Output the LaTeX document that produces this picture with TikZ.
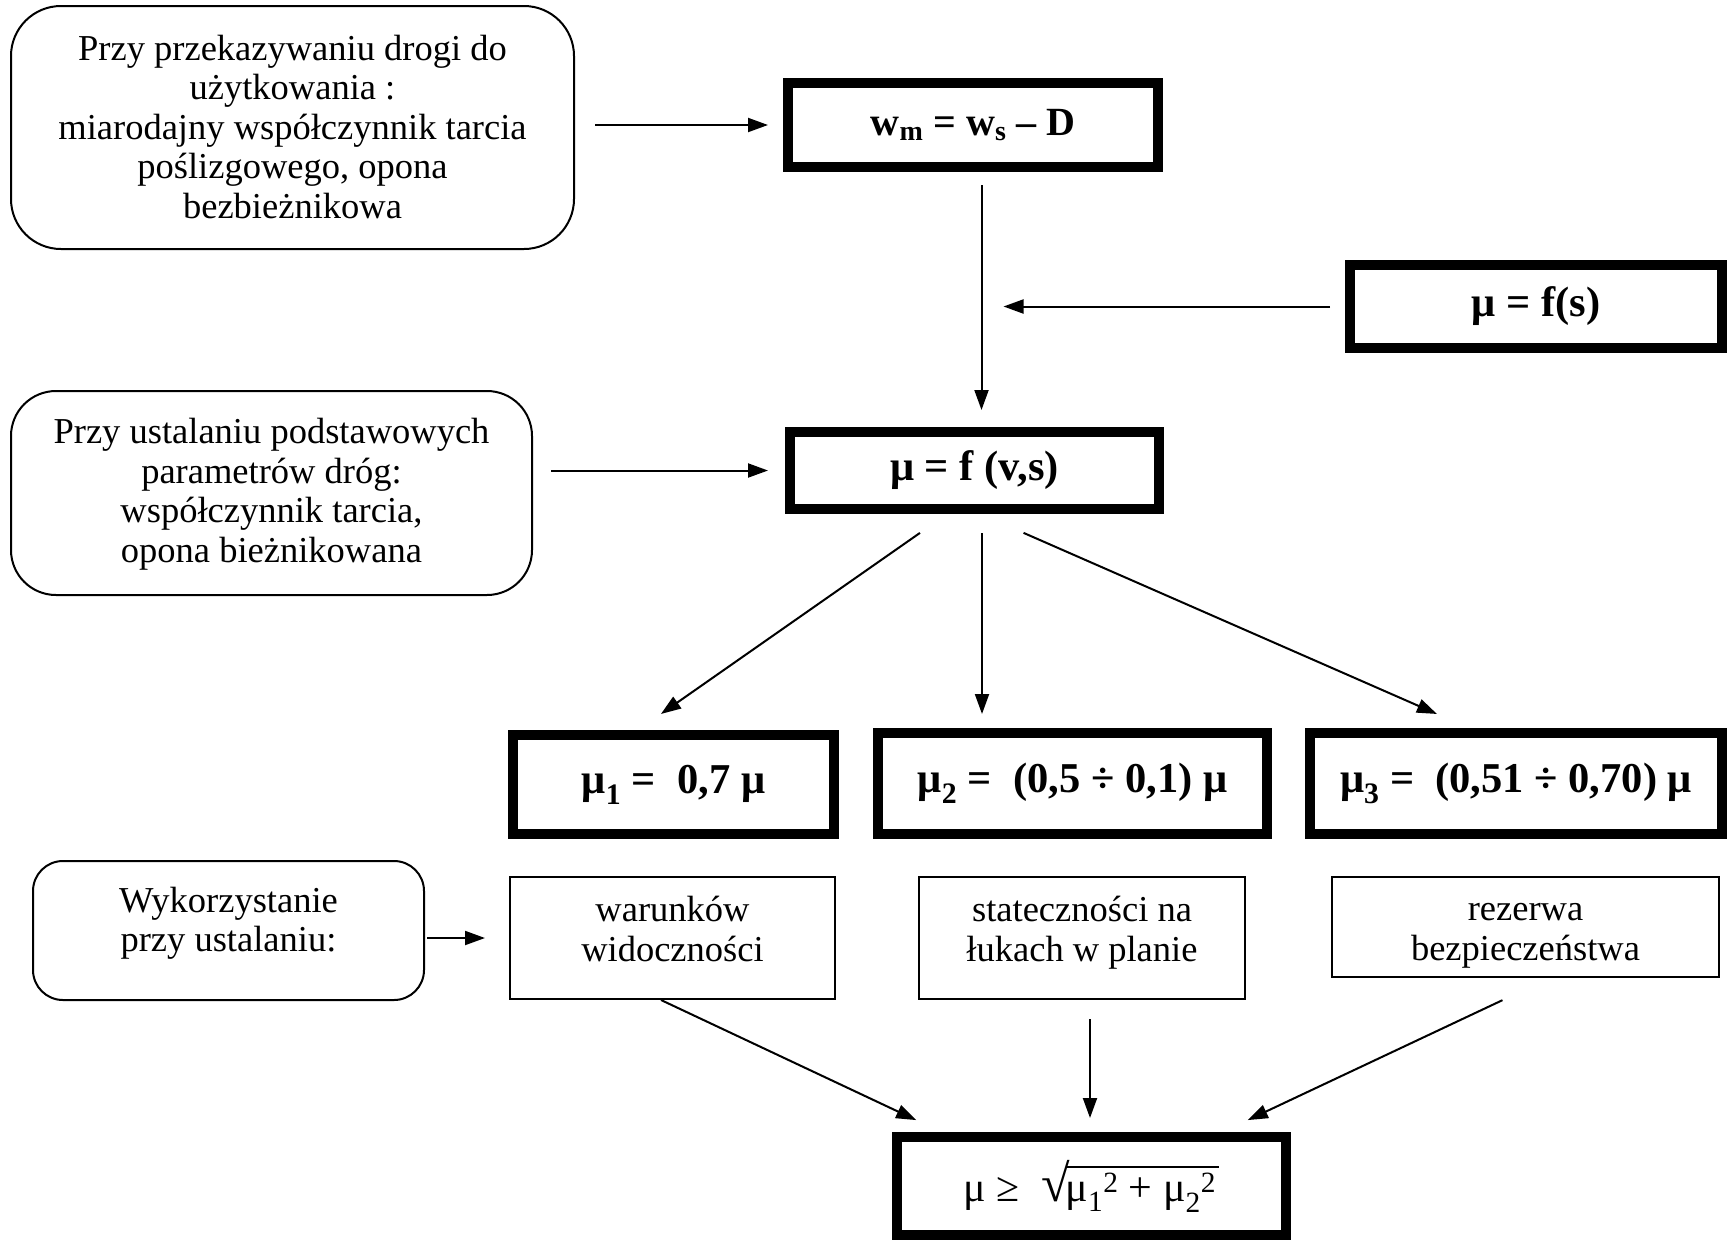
\documentclass[tikz,border=0pt]{standalone}
\usepackage{fontspec}
\setmainfont{Liberation Serif}
\usetikzlibrary{arrows.meta}
\newcommand{\myroot}[1]{{\fontsize{52}{52}\selectfont √}\kern-4pt\vbox{\hrule height 2pt\kern 5pt\hbox{#1}}}
\begin{document}
\begin{tikzpicture}[x=1pt,y=-1pt,
  txt/.style={align=center, inner sep=0pt, font=\fontsize{36.5}{39.5}\selectfont},
  thinbox/.style={draw, line width=2pt, inner sep=0pt},
  thickbox/.style={draw, line width=10pt, inner sep=0pt,
    font=\fontsize{42.5}{48}\selectfont\bfseries},
  arr/.style={line width=2pt, -{Triangle[length=20pt,width=14pt]}}]
\fill[white] (0,0) rectangle (1727,1243);
\useasboundingbox (0,0) rectangle (1727,1243);

% nodes
\node[thinbox, rounded corners=50pt, minimum width=563pt, minimum height=243pt] (b1) at (292.5,127.5) {};
\node[txt] (b1T) at ([yshift=-4pt]b1.center)
  {\strut Przy przekazywaniu drogi do\\użytkowania :\\miarodajny współczynnik tarcia\\poślizgowego, opona\\bezbieżnikowa\strut};
\node[thickbox, font=\fontsize{40}{48}\selectfont\bfseries, minimum width=370pt, minimum height=84pt] (wm) at (973,125)
  {w\textsubscript{m} = w\textsubscript{s} – D};
\node[thickbox, minimum width=372pt, minimum height=83pt] (fs) at (1536,306.5) {μ = f(s)};
\node[thinbox, rounded corners=45pt, minimum width=521pt, minimum height=204pt] (b2) at (271.5,493) {};
\node[txt] (b2T) at ([yshift=-2pt]b2.center)
  {\strut Przy ustalaniu podstawowych\\parametrów dróg:\\współczynnik tarcia,\\opona bieżnikowana\strut};
\node[thickbox, minimum width=369pt, minimum height=77pt] (fvs) at (974.5,470.5) {μ = f (v,s)};
\node[thickbox, minimum width=321pt, minimum height=99pt] (m1) at (673.5,784.5)
  {μ\textsubscript{1} =\ \ 0,7 μ};
\node[thickbox, minimum width=389pt, minimum height=101pt] (m2) at (1072.5,783.5)
  {μ\textsubscript{2} =\ \ (0,5 ÷ 0,1) μ};
\node[thickbox, minimum width=412pt, minimum height=101pt] (m3) at (1516,783.5)
  {μ\textsubscript{3} =\ \ (0,51 ÷ 0,70) μ};

\node[thinbox, rounded corners=30pt, minimum width=391pt, minimum height=139pt] (wyk) at (228.5,930.5) {};
\node[txt] (wykT) at ([yshift=6.5pt]wyk.center) {\strut Wykorzystanie\\przy ustalaniu:\strut};
\node[thinbox, minimum width=325pt, minimum height=122pt] (war) at (672.5,938) {};
\node[txt] (warT) at ([yshift=4.5pt]war.center) {\strut warunków\\widoczności\strut};
\node[thinbox, minimum width=326pt, minimum height=122pt] (stat) at (1082,938) {};
\node[txt] (statT) at ([yshift=4.5pt]stat.center) {\strut stateczności na\\łukach w planie\strut};
\node[thinbox, minimum width=387pt, minimum height=100pt] (rez) at (1525.5,927) {};
\node[txt] (rezT) at ([yshift=-5.5pt]rez.center) {\strut rezerwa\\bezpieczeństwa\strut};

\node[thickbox, font=\fontsize{42}{48}\selectfont, minimum width=389pt, minimum height=98pt] (res) at (1091.5,1186)
  {μ ≥\ \ \myroot{μ\textsubscript{1}\textsuperscript{2} + μ\textsubscript{2}\textsuperscript{2}\kern3pt}};

\coordinate (vm) at ([xshift=8.5pt]wm.south |- fs.west);

% connectors
\draw[arr, shorten <=20pt, shorten >=15pt] (b1.east |- wm.west) -- (wm.west);
\draw[arr, shorten <=13pt, shorten >=17pt] ([xshift=8.5pt]wm.south) -- ([xshift=8.5pt]wm.south |- fvs.north);
\draw[arr, shorten <=15pt, shorten >=22pt] (fs.west) -- (vm);
\draw[arr, shorten <=18pt, shorten >=17pt] (b2.east |- fvs.west) -- (fvs.west);
\draw[arr, shorten <=33pt, shorten >=28pt] ([xshift=-27.5pt]fvs.south) -- ([xshift=-35.5pt]m1.north);
\draw[arr, shorten <=19pt, shorten >=14pt] ([xshift=7.5pt]fvs.south) -- ([xshift=7.5pt]fvs.south |- m2.north);
\draw[arr, shorten <=47pt, shorten >=35pt] ([xshift=6pt]fvs.south) -- ([xshift=-47pt]m3.north);
\draw[arr, shorten <=2pt, shorten >=24pt] (wyk.east |- war.west) -- (war.west);
\draw[arr, shorten >=28pt] ([xshift=-11.5pt]war.south) -- ([xshift=-150pt]res.north);
\draw[arr, shorten <=19pt, shorten >=14pt] ([xshift=8pt]stat.south) -- ([xshift=8pt]stat.south |- res.north);
\draw[arr, shorten <=52pt, shorten >=28pt] ([xshift=24pt]rez.south) -- ([xshift=131pt]res.north);
\end{tikzpicture}
\end{document}
